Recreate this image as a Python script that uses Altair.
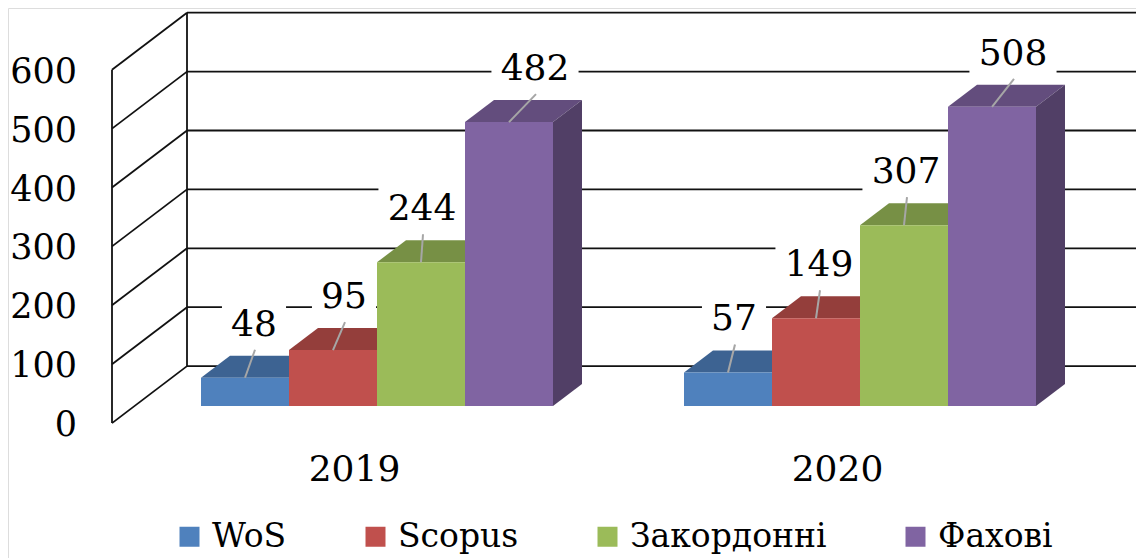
import altair as alt
import pandas as pd

# ---------------- data ----------------
YEARS = ["2019", "2020"]
SERIES = ["WoS", "Scopus", "Закордонні", "Фахові"]
VAL_2019 = [48, 95, 244, 482]
VAL_2020 = [57, 149, 307, 508]
Y_TICKS = [0, 100, 200, 300, 400, 500, 600]

# ---------------- styles ----------------
FRONT = ["#4F81BD", "#C0504D", "#9BBB59", "#8064A2"]
TOP = ["#3D6392", "#943E3B", "#779045", "#634D7D"]
SIDE = ["#32527A", "#7A3331", "#637738", "#513F66"]
LABEL_DX = [[9, 11, 1, 26], [6, 3, 2, 21]]  # label nudges (px)
FONT = "DejaVu Serif"
NUM_SIZE = 36
TICK_SIZE = 35
LEG_SIZE = 33

# ---------------- layout ----------------
W, H = 1128, 550
ORIGIN = 8
PX = 0.589            # pixels per value unit
BASE_Y = 406          # page y of value 0 on the bars' front plane
YMAX = (BASE_Y - ORIGIN) / PX
YMIN = YMAX - H / PX
DX = 75.0             # full depth of the box, px
DV = 57.0 / PX        # full depth of the box, value units
BAR_DEPTH = 29.0 / 75.0
AXIS_DEPTH = -0.3
WALL_DEPTH = 0.7
CORNER_X = 134.5
RIGHT_X = ORIGIN + W
GROUP_X = [201, 684]
BAR_W = 88

xs = alt.Scale(domain=[ORIGIN, ORIGIN + W], nice=False, zero=False)
ys = alt.Scale(domain=[YMIN, YMAX], nice=False, zero=False)


def X(f):
    return alt.X(f"{f}:Q", scale=xs, axis=None)


def Y(f):
    return alt.Y(f"{f}:Q", scale=ys, axis=None)


# ---------------- walls ----------------
grid = pd.DataFrame([
    {"x": CORNER_X + DX * WALL_DEPTH, "x2": RIGHT_X, "y": t + DV * WALL_DEPTH}
    for t in Y_TICKS
])
diag = pd.DataFrame([
    {"x": CORNER_X + DX * AXIS_DEPTH, "y": t + DV * AXIS_DEPTH,
     "x2": CORNER_X + DX * WALL_DEPTH, "y2": t + DV * WALL_DEPTH}
    for t in Y_TICKS
])
verts = pd.DataFrame([
    {"x": CORNER_X + DX * d, "y": Y_TICKS[0] + DV * d, "y2": Y_TICKS[-1] + DV * d}
    for d in (AXIS_DEPTH, WALL_DEPTH)
])

LINE = dict(color="#111111", strokeWidth=1.8)
grid_l = alt.Chart(grid).mark_rule(**LINE).encode(x=X("x"), x2="x2", y=Y("y"))
diag_l = alt.Chart(diag).mark_rule(**LINE).encode(x=X("x"), x2="x2", y=Y("y"), y2="y2")
vert_l = alt.Chart(verts).mark_rule(**LINE).encode(x=X("x"), y=Y("y"), y2="y2")

# ---------------- bars ----------------
fronts, faces, leads, labels = [], [], [], []
bx = DX * BAR_DEPTH
bv = DV * BAR_DEPTH
for g, (year, vals) in enumerate(zip(YEARS, [VAL_2019, VAL_2020])):
    for i, (s, v) in enumerate(zip(SERIES, vals)):
        x0 = GROUP_X[g] + i * BAR_W
        x1 = x0 + BAR_W
        fronts.append({"x": x0, "x2": x1, "y": 0, "y2": v, "series": s})
        fid = f"{year}-{i}-top"
        for px_, a, b in [(x0, v, v), (x0 + bx, v, v + bv), (x1, v, v + bv), (x1 + bx, v + bv, v + bv)]:
            faces.append({"x": px_, "y": a, "y2": b, "face": fid, "fill": TOP[i]})
        fid = f"{year}-{i}-side"
        for px_, a, b in [(x1, 0, v), (x1 + bx, bv, v + bv)]:
            faces.append({"x": px_, "y": a, "y2": b, "face": fid, "fill": SIDE[i]})
        cx = (x0 + x1) / 2
        ldx = LABEL_DX[g][i]
        leads.append({"x": cx, "y": v, "x2": cx + ldx + 1, "y2": v + 28 / PX})
        txt = str(v)
        lx = cx + ldx
        ly = v + 55 / PX
        bw = 0.64 * NUM_SIZE * len(txt) + 18
        labels.append({"x": lx, "y": ly, "text": txt,
                       "bx": lx - bw / 2, "bx2": lx + bw / 2,
                       "by": ly - 22 / PX, "by2": ly + 22 / PX})

fronts = pd.DataFrame(fronts)
faces = pd.DataFrame(faces)
leads = pd.DataFrame(leads)
labels = pd.DataFrame(labels)

face_l = alt.Chart(faces).mark_area(interpolate="linear", strokeWidth=0).encode(
    x=X("x"), y=Y("y"), y2="y2",
    detail="face:N",
    fill=alt.Fill("fill:N", scale=None),
)
front_l = alt.Chart(fronts).mark_rect(strokeWidth=0).encode(
    x=X("x"), x2="x2", y=Y("y"), y2="y2",
    color=alt.Color(
        "series:N",
        scale=alt.Scale(domain=SERIES, range=FRONT),
        sort=SERIES,
        legend=alt.Legend(
            orient="none", legendX=165, legendY=512, direction="horizontal",
            title=None, symbolType="square", symbolSize=400, symbolStrokeWidth=0,
            labelFont=FONT, labelFontSize=LEG_SIZE, labelColor="#000000",
            labelOffset=6, columnPadding=72, labelLimit=500, padding=0,
        ),
    ),
)

box_l = alt.Chart(labels).mark_rect(color="white").encode(
    x=X("bx"), x2="bx2", y=Y("by"), y2="by2"
)
lead_l = alt.Chart(leads).mark_rule(color="#A6A6A6", strokeWidth=2).encode(
    x=X("x"), x2="x2", y=Y("y"), y2="y2"
)
lab_l = alt.Chart(labels).mark_text(
    font=FONT, fontSize=NUM_SIZE, color="#000000", align="center", baseline="middle", dy=2
).encode(x=X("x"), y=Y("y"), text="text:N")

# ---------------- axis texts ----------------
ytxt = pd.DataFrame([{"x": 77, "y": t + DV * AXIS_DEPTH, "text": str(t)} for t in Y_TICKS])
ytxt_l = alt.Chart(ytxt).mark_text(
    font=FONT, fontSize=TICK_SIZE, color="#000000", align="right", baseline="middle", dy=2
).encode(x=X("x"), y=Y("y"), text="text:N")

xtxt = pd.DataFrame([
    {"x": GROUP_X[g] + 2 * BAR_W + DX * AXIS_DEPTH, "y": DV * AXIS_DEPTH - 47 / PX, "text": y}
    for g, y in enumerate(YEARS)
])
xtxt_l = alt.Chart(xtxt).mark_text(
    font=FONT, fontSize=NUM_SIZE, color="#000000", align="center", baseline="middle"
).encode(x=X("x"), y=Y("y"), text="text:N")

chart = alt.layer(
    grid_l, diag_l, vert_l, box_l, face_l, front_l, lead_l, lab_l, ytxt_l, xtxt_l
).properties(
    width=W, height=H,
    autosize=alt.AutoSizeParams(type="none"),
    padding=0,
).configure_view(stroke=None).configure(background="white")

chart.save("out.html", embed_options={"renderer": "svg", "actions": False})
